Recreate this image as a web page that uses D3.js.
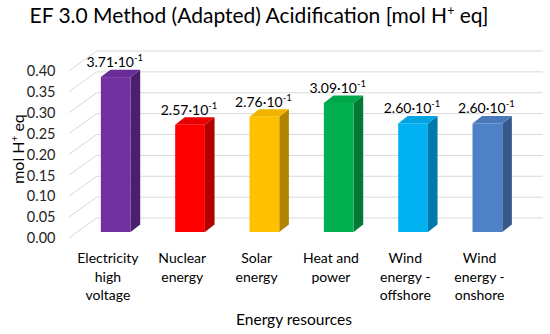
<!DOCTYPE html>
<html>
<head>
<meta charset="utf-8">
<script src="https://cdn.jsdelivr.net/npm/d3@7"></script>
<style>
  body { margin: 0; background: #fff; }
  svg { font-family: Lato, "Open Sans", sans-serif; }
</style>
</head>
<body>
<svg id="chart"></svg>
<script>
// data
const categories = ['Electricity high voltage', 'Nuclear energy', 'Solar energy',
                    'Heat and power', 'Wind energy - offshore', 'Wind energy - onshore'];
const categoryLines = [['Electricity', 'high', 'voltage'], ['Nuclear', 'energy'], ['Solar', 'energy'],
                       ['Heat and', 'power'], ['Wind', 'energy -', 'offshore'], ['Wind', 'energy -', 'onshore']];
const values = [0.371, 0.257, 0.276, 0.309, 0.260, 0.260];
const valueMantissa = ['3.71', '2.57', '2.76', '3.09', '2.60', '2.60'];
const yTicks = [0, 0.05, 0.10, 0.15, 0.20, 0.25, 0.30, 0.35, 0.40];

const frontColors = ['#7030a0', '#ff0000', '#ffc000', '#00b050', '#00b0f0', '#4f81c6'];
const sideColors  = ['#4a1f6c', '#b00000', '#b08400', '#007a36', '#0078a8', '#34598a'];
const topColors   = ['#6a2c98', '#e80000', '#f0b400', '#00a64a', '#00a4e0', '#4a79bb'];

function makeChart() {
    let w = 550;
    let h = 334;

    let svg = d3.select('#chart')
        .attr('width', w)
        .attr('height', h);

    // 3D look: depth goes up and to the right
    let depthX = 26, depthY = -20;
    let proj = (x, y, t) => [x + t * depthX, y + t * depthY];

    let xScale = d3.scaleBand()
        .domain(categories)
        .range([70.75, 516.75])
        .paddingInner(0.6)
        .paddingOuter(0.3);

    let yScale = d3.scaleLinear()
        .domain([0, 0.4])
        .range([238, 71]);

    let grid = svg.append('g');

    // back wall lines + left wall diagonals
    yTicks.forEach((v) => {
        let a = proj(xScale.range()[0] - 2, yScale(v), 0);
        let b = proj(xScale.range()[0], yScale(v), 1);
        let c = proj(xScale.range()[1], yScale(v), 1);
        grid.append('path')
            .attr('d', `M${a[0]},${a[1]}L${b[0]},${b[1]}L${c[0]},${c[1]}`)
            .attr('fill', 'none')
            .attr('stroke', '#d9d9d9')
            .attr('stroke-width', 1);
    });

    // bars
    let t0 = 0.3, t1 = 0.67;
    let bars = svg.append('g').selectAll('g')
        .data(categories)
        .enter()
        .append('g');

    let bw = xScale.bandwidth();
    let pt = (x, y, t) => proj(x, y, t).join(',');

    bars.each(function(c, i) {
        let g = d3.select(this);
        let x0 = xScale(c), x1 = x0 + bw;
        let yb = yScale(0), yt = yScale(values[i]);
        // side face
        g.append('polygon')
            .attr('points', [pt(x1, yb, t0), pt(x1, yb, t1), pt(x1, yt, t1), pt(x1, yt, t0)].join(' '))
            .attr('fill', sideColors[i]);
        // top face
        g.append('polygon')
            .attr('points', [pt(x0, yt, t0), pt(x0, yt, t1), pt(x1, yt, t1), pt(x1, yt, t0)].join(' '))
            .attr('fill', topColors[i]);
        // front face
        let f = proj(x0, yt, t0);
        g.append('rect')
            .attr('x', f[0])
            .attr('y', f[1])
            .attr('width', bw)
            .attr('height', yb - yt)
            .attr('fill', frontColors[i]);

        // value label
        let lbl = proj(x0 + bw / 2, yt, t0);
        let txt = g.append('text')
            .attr('x', lbl[0] - 1)
            .attr('y', lbl[1] - 10)
            .attr('text-anchor', 'middle')
            .attr('font-size', '14px')
            .attr('fill', '#000');
        txt.append('tspan').text(valueMantissa[i] + '\u00b710');
        txt.append('tspan')
            .attr('dy', -6)
            .attr('font-size', '9.5px')
            .text('-1');
    });

    // y axis labels (front plane)
    let yAxis = d3.axisLeft(yScale)
        .tickValues(yTicks)
        .tickFormat(d3.format('.2f'))
        .tickSize(0)
        .tickPadding(0);

    let yAxisGroup = svg.append('g')
        .attr('transform', 'translate(55.5,0)')
        .call(yAxis);
    yAxisGroup.select('.domain').remove();
    yAxisGroup.selectAll('text')
        .attr('font-family', 'Lato, sans-serif')
        .attr('font-size', '14.5px')
        .attr('fill', '#262626');

    // category labels (front plane)
    let xAxis = d3.axisBottom(xScale)
        .tickSize(0)
        .tickFormat('');

    let xAxisGroup = svg.append('g')
        .attr('transform', 'translate(0,252)')
        .call(xAxis);
    xAxisGroup.select('.domain').remove();
    xAxisGroup.selectAll('.tick').each(function(c, i) {
        let tx = d3.select(this).append('text')
            .attr('text-anchor', 'middle')
            .attr('font-family', 'Lato, sans-serif')
            .attr('font-size', '14px')
            .attr('fill', '#000');
        categoryLines[i].forEach((line, k) => {
            tx.append('tspan')
                .attr('x', 0)
                .attr('y', 11 + k * 18.5)
                .text(line);
        });
    });

    // axis titles
    svg.append('text')
        .attr('x', 294)
        .attr('y', 325)
        .attr('text-anchor', 'middle')
        .attr('font-size', '15.5px')
        .attr('fill', '#000')
        .text('Energy resources');

    let yTitle = svg.append('text')
        .attr('transform', 'translate(24,149) rotate(-90)')
        .attr('text-anchor', 'middle')
        .attr('font-size', '16px')
        .attr('fill', '#000');
    yTitle.append('tspan').text('mol H');
    yTitle.append('tspan').attr('dy', -6).attr('font-size', '10px').text('+');
    yTitle.append('tspan').attr('dy', 6).text(' eq');

    // chart title
    let title = svg.append('text')
        .attr('x', 259)
        .attr('y', 23)
        .attr('text-anchor', 'middle')
        .attr('font-size', '21px')
        .attr('fill', '#000');
    title.append('tspan').text('EF 3.0 Method (Adapted) Acidification [mol H');
    title.append('tspan').attr('dy', -8).attr('font-size', '12.5px').text('+');
    title.append('tspan').attr('dy', 8).text(' eq]');
}

window.onload = function() {
    makeChart();
}
</script>
</body>
</html>
